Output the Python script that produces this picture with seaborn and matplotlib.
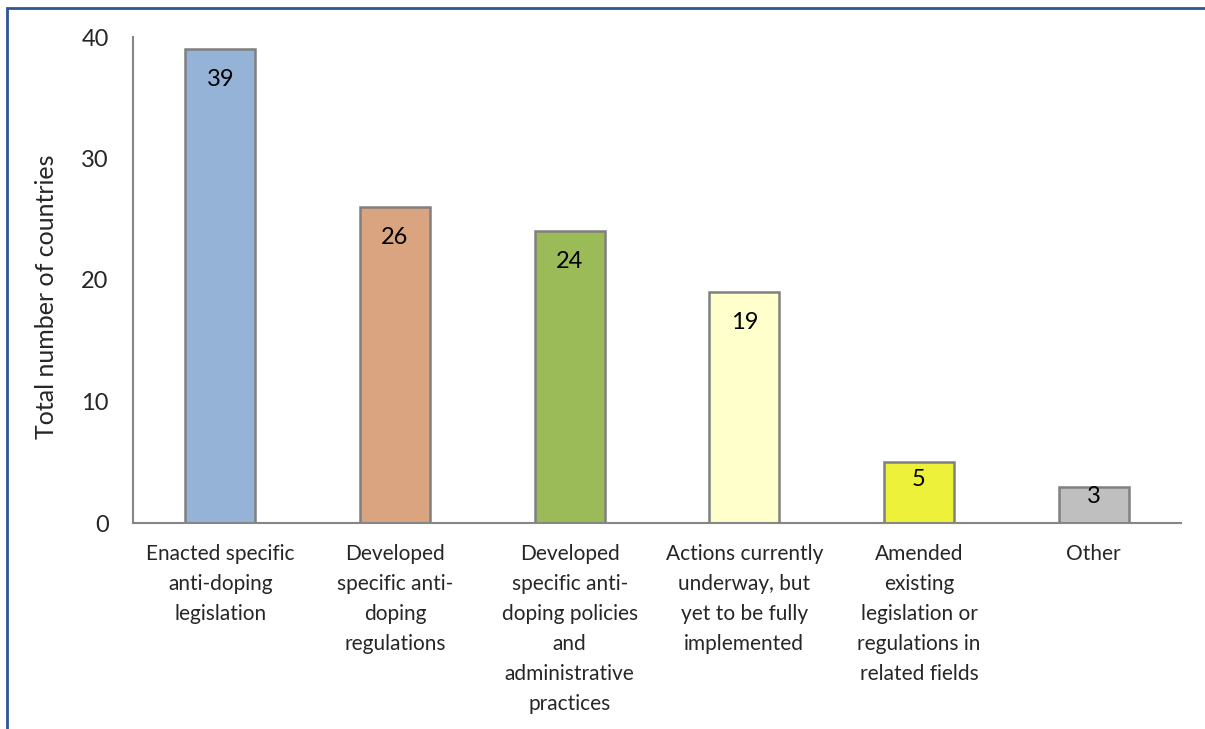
import matplotlib
matplotlib.use("Agg")
import matplotlib.pyplot as plt
import seaborn as sns
import pandas as pd
from matplotlib.patches import Rectangle

categories = [
    "Enacted specific\nanti-doping\nlegislation",
    "Developed\nspecific anti-\ndoping\nregulations",
    "Developed\nspecific anti-\ndoping policies\nand\nadministrative\npractices",
    "Actions currently\nunderway, but\nyet to be fully\nimplemented",
    "Amended\nexisting\nlegislation or\nregulations in\nrelated fields",
    "Other",
]
values = [39, 26, 24, 19, 5, 3]
colors = ["#95B3D7", "#D9A47F", "#9BBB59", "#FFFFCC", "#EEF13A", "#BFBFBF"]
yticks = [0, 10, 20, 30, 40]

sns.set_theme(style="white")
plt.rcParams['font.family'] = ['Lato', 'DejaVu Sans']

df = pd.DataFrame({"cat": categories, "val": values})

fig = plt.figure(figsize=(12.05, 7.29), dpi=100)
ax = fig.add_axes([133/1205, 1-523/729, (1181-133)/1205, (523-37)/729])

sns.barplot(data=df, x="cat", y="val", hue="cat", palette=colors, legend=False,
            width=0.4, edgecolor="#808080", linewidth=1.8, ax=ax, saturation=1)

ax.set_ylim(0, 40)
ax.set_xlim(-0.5, len(categories) - 0.5)
ax.set_yticks(yticks)
ax.set_yticklabels([str(t) for t in yticks], fontsize=17)
ax.set_xticks(range(len(categories)))
ax.set_xticklabels(categories, fontsize=15, linespacing=1.63, va="top")
ax.tick_params(axis="x", length=0, pad=15)
ax.tick_params(axis="y", length=6.5, width=1.2, color="#868686", direction="out", pad=11)
# category boundary ticks
ax.set_xticks([i - 0.5 for i in range(len(categories) + 1)], minor=True)
ax.tick_params(axis="x", which="minor", length=6, width=1.2, color="#868686", direction="out")

for s in ["top", "right"]:
    ax.spines[s].set_visible(False)
for s in ["left", "bottom"]:
    ax.spines[s].set_color("#868686")
    ax.spines[s].set_linewidth(1.5)

ax.set_xlabel("")
ax.set_ylabel("Total number of countries", fontsize=18)
ax.yaxis.set_label_coords(-0.072, 0.465)

# value labels inside bar ends
px_per_unit = (523 - 37) / 40
for i, v in enumerate(values):
    off_px = min(30, 0.28 * v * px_per_unit)
    ax.annotate(str(v), xy=(i, v), xytext=(0, -off_px * 0.72), textcoords="offset points",
                ha="center", va="center", fontsize=17, color="black")

fig.patches.append(Rectangle((7/1205, -0.1), 1.2, 1 - 8/729 + 0.1, transform=fig.transFigure,
                             fill=False, edgecolor="#2F5496", linewidth=2, zorder=10))

fig.savefig("out.png", dpi=100)
